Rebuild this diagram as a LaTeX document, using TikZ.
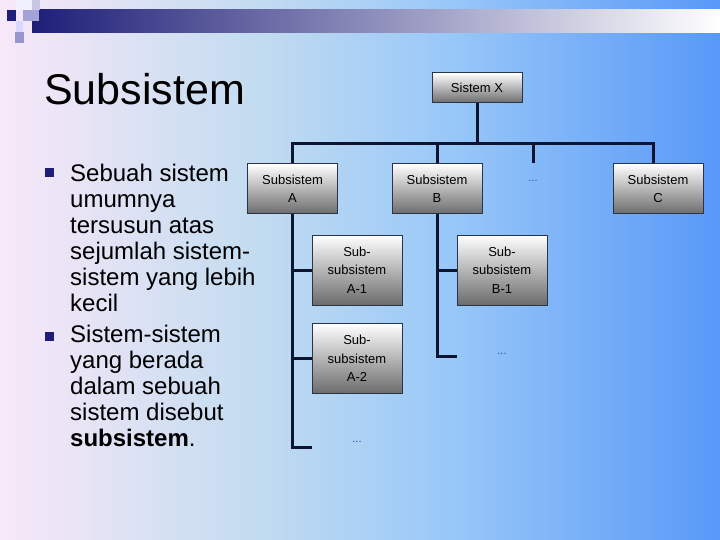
\documentclass[tikz,border=0pt]{standalone}
\usepackage{fontspec}
\setmainfont{Liberation Sans}
\newfontfamily\boxfont{Liberation Sans}
\definecolor{bgA}{HTML}{F8E8F8}
\definecolor{bgB}{HTML}{C4DCF0}
\definecolor{bgC}{HTML}{98C8F8}
\definecolor{bgD}{HTML}{5898F8}
\definecolor{navy}{HTML}{1E1E78}
\definecolor{linec}{HTML}{0E1430}
\definecolor{boxedge}{HTML}{283448}
\definecolor{dots}{HTML}{2050A0}
\pgfdeclarehorizontalshading{bgshade}{100bp}{color(0bp)=(bgA); color(25bp)=(bgA); color(42.4bp)=(bgB); color(56.25bp)=(bgC); color(75bp)=(bgD); color(100bp)=(bgD)}
\tikzset{
  orgbox/.style={draw=boxedge, line width=1pt, top color=white, bottom color=black!58,
    minimum width=90pt, minimum height=50pt, inner sep=0pt, align=center,
    font=\boxfont\fontsize{13}{18.5}\selectfont},
  subbox/.style={orgbox, minimum height=70pt},
  conn/.style={draw=linec, line width=3pt},
  bul/.style={fill=navy, minimum size=9pt, inner sep=0pt},
  bodytext/.style={anchor=base west, align=left, inner sep=0pt, font=\fontsize{24}{26}\selectfont},
  dotlbl/.style={text=dots, font=\fontsize{11}{12}\selectfont, inner sep=0pt}
}
\begin{document}
\begin{tikzpicture}[x=1pt,y=-1pt]
\useasboundingbox (0,0) rectangle (720,540);
% background
\shade[shading=bgshade] (0,0) rectangle (720,540);
% top bar
\shade[left color=navy, middle color=black!25!white, right color=white] (32,10) rectangle (720,33);
\fill[navy] (7,10) rectangle (16,21);
\fill[white!70!blue!20] (16,0) rectangle (32,10);
\fill[blue!15!white!80!gray] (32,0) rectangle (40,10);
\fill[blue!30!white!70!gray] (23,10) rectangle (39,21);
\fill[white!85!blue] (16,21) rectangle (23,32);
\fill[blue!35!white!60!gray] (15,32) rectangle (24,43);
% title
\node[anchor=base west, inner sep=0pt, font=\fontsize{43}{50}\selectfont] (title) at (44,105) {Subsistem};
% bullets
\node[bul] (b1) at (49.5,172.5) {};
\node[bul] (b2) at (49.5,336.5) {};
\node[bodytext] (t1) at (70,311) {Sebuah sistem\\umumnya\\tersusun atas\\sejumlah sistem-\\sistem yang lebih\\kecil};
\node[bodytext] (t2) at (70,446) {Sistem-sistem\\yang berada\\dalam sebuah\\sistem disebut\\\textbf{subsistem}.};
% org chart boxes
\node[orgbox, minimum height=30pt] (X) at (477,88) {Sistem X};
\node[orgbox] (A) at (292.5,189) {Subsistem\\A};
\node[orgbox] (B) at (437,189) {Subsistem\\B};
\node[orgbox] (C) at (658,189) {Subsistem\\C};
\node[subbox] (A1) at (357,270) {Sub-\\subsistem\\A-1};
\node[subbox] (A2) at (357,358.5) {Sub-\\subsistem\\A-2};
\node[subbox] (B1) at (502,270) {Sub-\\subsistem\\B-1};
\node[dotlbl] (d1) at (533,181) {...};
\node[dotlbl] (d2) at (502,354) {...};
\node[dotlbl] (d3) at (357,442) {...};
% connectors
\coordinate (hub) at (477,144);
\coordinate (hl) at (292,144);
\coordinate (hr) at (653,144);
\coordinate (stub) at (533,163);
\coordinate (aEnd) at (312,447);
\coordinate (bEnd) at (457,356);
\draw[conn] (X.south) -- (hub);
\draw[conn] (A.north -| hl) |- (hr) -- (C.north -| hr);
\draw[conn] (B.north) -- (B.north |- hl);
\draw[conn] (stub) -- (stub |- hl);
\draw[conn] (A.south -| hl) |- (aEnd);
\draw[conn] (hl |- A1.west) -- (A1.west);
\draw[conn] (hl |- A2.west) -- (A2.west);
\draw[conn] (B.south) |- (bEnd);
\draw[conn] (B.south |- B1.west) -- (B1.west);
\end{tikzpicture}
\end{document}
